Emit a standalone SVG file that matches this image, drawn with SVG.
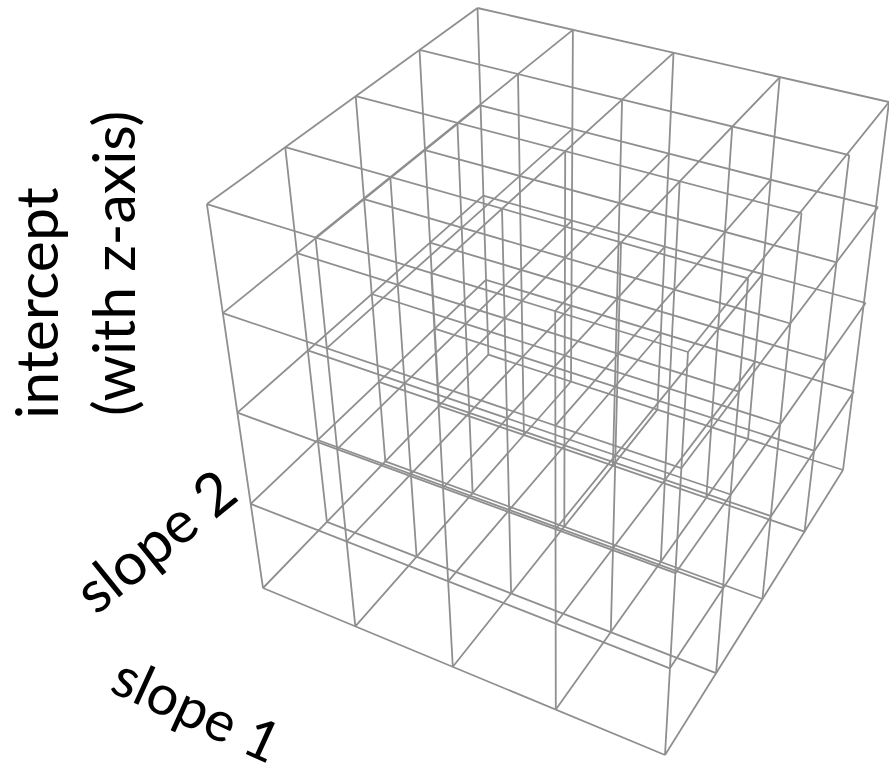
<svg xmlns="http://www.w3.org/2000/svg" width="889" height="767" viewBox="0 0 889 767">
<style>
.grid path{fill:none;stroke:#8f8f8f;stroke-width:1.8}
text{font-family:"Lato","Open Sans","Liberation Sans",sans-serif;font-size:59px;fill:#000}
</style>
<rect width="889" height="767" fill="#fff"/>
<g id="connectors" class="grid">
<path id="k-lines" d="M665 755L688 352M716.1 673.1L748.1 278.4M762.4 599L801.5 213.2M804.5 531.6L849.2 155.1M843 470L889 102
M555.8 709.6L555.2 311.1M610.8 632.2L621 242.4M660.8 561.9L679.7 181.2M706.3 497.8L732.3 126.5M748 439.1L779.7 77.3
M452.8 666.8L431.3 273M511.1 593.5L502 208.6M564.3 526.7L565.2 151.1M612.9 465.6L622.1 99.5M657.4 409.6L673.5 52.9
M355.3 626.3L315.5 237.4M416.6 556.7L390.3 177M472.6 493.2L457.4 122.8M523.9 435L518 74M571 381.5L572.9 29.9
M263 588L206.9 204.1M326.9 521.8L285.2 147.2M385.3 461.4L355.7 96.1M439 405.8L419.5 49.9M488.4 354.7L477.5 8"/>
<path id="i-lines-bottom" d="M665 755L263 588M716.1 673.1L326.9 521.8M762.4 599L385.3 461.4M804.5 531.6L439 405.8M843 470L488.4 354.7"/>
<path id="i-lines-1" d="M669.9 668.3L250.7 503.9M723.1 588.2L317.7 440M771 516.1L378.8 381.8M814.4 450.9L434.6 328.6M853.9 391.6L485.9 279.8"/>
<path id="i-lines-2" d="M675.4 573.2L237.4 412.6M730.6 494.5L307.8 350.4M780.3 424L371.7 294M825 360.5L430 242.7M865.6 303L483.3 195.7"/>
<path id="i-lines-3" d="M681.3 468.2L222.8 313.1M739 391.7L297 253.2M790.4 323.5L364 199.1M836.6 262.3L424.9 150.1M878 207.2L480.5 105.4"/>
<path id="i-lines-top" d="M688 352L206.9 204.1M748.1 278.4L285.2 147.2M801.5 213.2L355.7 96.1M849.2 155.1L419.5 49.9M889 102L477.5 8"/>
<path id="j-lines-bottom" d="M665 755L843 470M555.8 709.6L748 439.1M452.8 666.8L657.4 409.6M355.3 626.3L571 381.5M263 588L488.4 354.7"/>
<path id="j-lines-1" d="M669.9 668.3L853.9 391.6M555.7 623.5L755 361.6M448.1 581.3L661 333M346.6 541.5L571.4 305.8M250.7 503.9L485.9 279.8"/>
<path id="j-lines-2" d="M675.4 573.2L865.6 303M555.5 529.2L762.6 274.1M443 488L664.9 246.7M337.1 449.2L571.9 220.6M237.4 412.6L483.3 195.7"/>
<path id="j-lines-3" d="M681.3 468.2L878 207.2M555.4 425.6L770.8 179.7M437.4 385.7L669 153.6M326.8 348.2L572.4 128.9M222.8 313.1L480.5 105.4"/>
<path id="j-lines-top" d="M688 352L889 102M555.2 311.1L779.7 77.3M431.3 273L673.5 52.9M315.5 237.4L572.9 29.9M206.9 204.1L477.5 8"/>
</g>
<g id="label-intercept">
<text transform="translate(58 419) rotate(-90)">intercept</text>
<text transform="translate(135 416) rotate(-90)">(with z-axis)</text>
</g>
<g id="label-slope-2"><text transform="translate(96 616) rotate(-39)">slope 2</text></g>
<g id="label-slope-1"><text font-size="56" style="font-size:56px" transform="translate(108 691) rotate(24.5)">slope 1</text></g>
</svg>
